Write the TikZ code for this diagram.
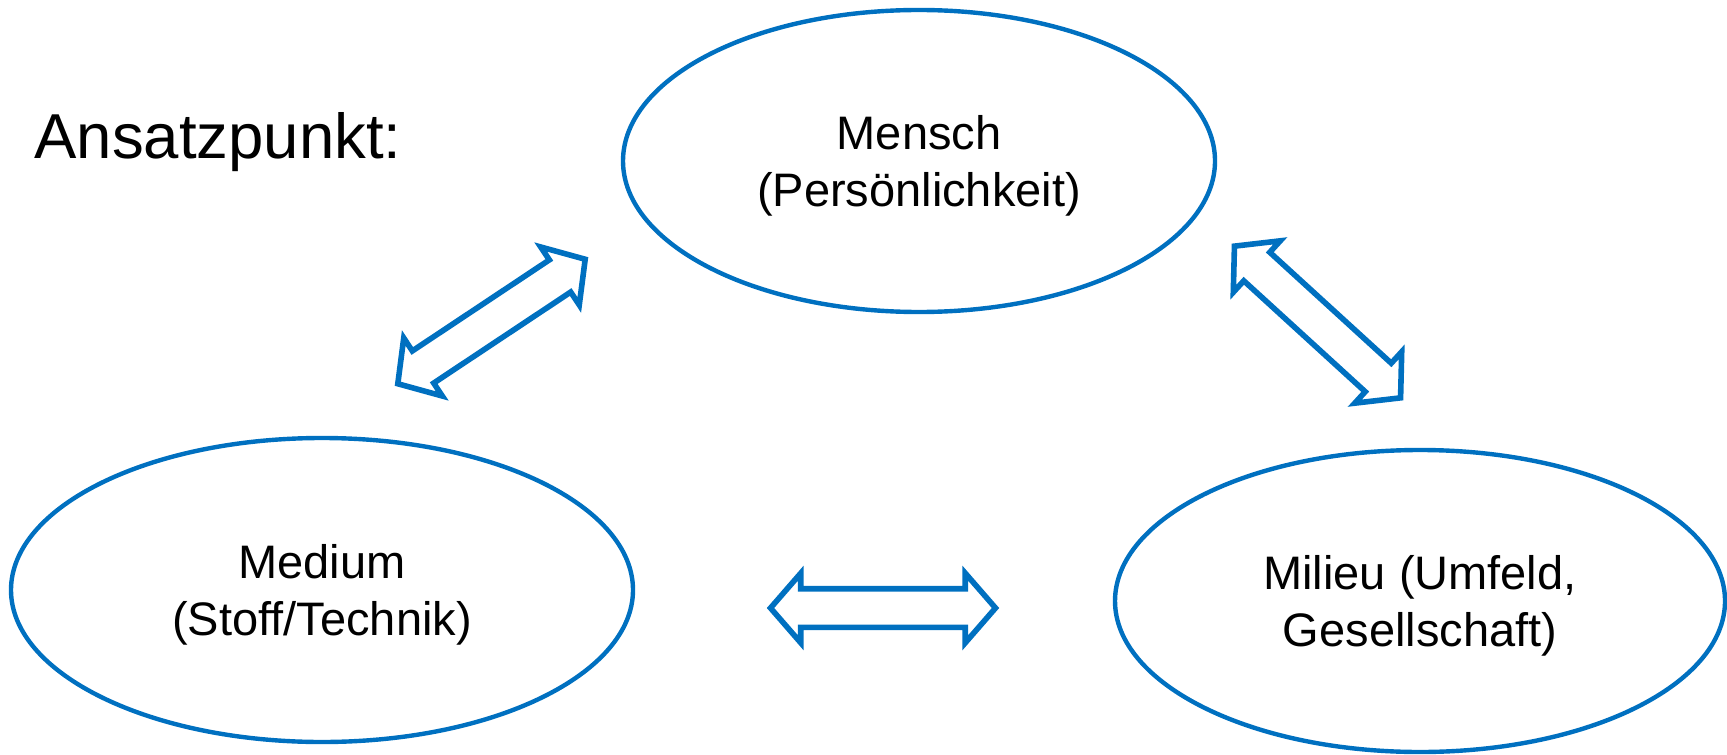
\documentclass[tikz,border=0pt]{standalone}
\usepackage{fontspec}
\setmainfont{Liberation Sans}
\usetikzlibrary{shapes.geometric,shapes.arrows}
\definecolor{ablau}{RGB}{0,112,192}

\begin{document}
\begin{tikzpicture}[x=0.5pt,y=-0.5pt,
		feld/.style={ellipse, draw=ablau, line width=2.2pt, inner sep=0, align=center, text height=50pt, text depth=5pt, font=\fontsize{23.5}{28.35}\selectfont},
		doppelpfeil/.style={double arrow, draw=ablau, line width=2.8pt, inner xsep=0, inner ysep=8.25pt, minimum height=112.5pt, double arrow head extend=7.75pt, double arrow tip angle=98}]
			%%%%% START %%%%%
			
			\useasboundingbox (0,0) rectangle (1727,754);
			
			\node[anchor=base west, inner sep=0, font=\fontsize{31.75}{38}\selectfont] (ansatz) at (34,159) {Ansatzpunkt:};
			
			\node[feld, minimum width=296pt, minimum height=151pt] (mensch) at (919,161) {Mensch\\(Persönlichkeit)};
			\node[feld, minimum width=311pt, minimum height=152pt] (medium) at (322,590) {Medium\\(Stoff/Technik)};
			\node[feld, minimum width=305pt, minimum height=151pt] (milieu) at (1420,601) {Milieu (Umfeld,\\Gesellschaft)};
			
			\node[doppelpfeil, rotate=33.6] (pfeillinks) at (491.5,321.5) {};
			\node[doppelpfeil, rotate=-42.4] (pfeilrechts) at (1317.5,322) {};
			\node[doppelpfeil] (pfeilunten) at (883,608) {};
			
			%%%%% END %%%%%
\end{tikzpicture}
\end{document}
